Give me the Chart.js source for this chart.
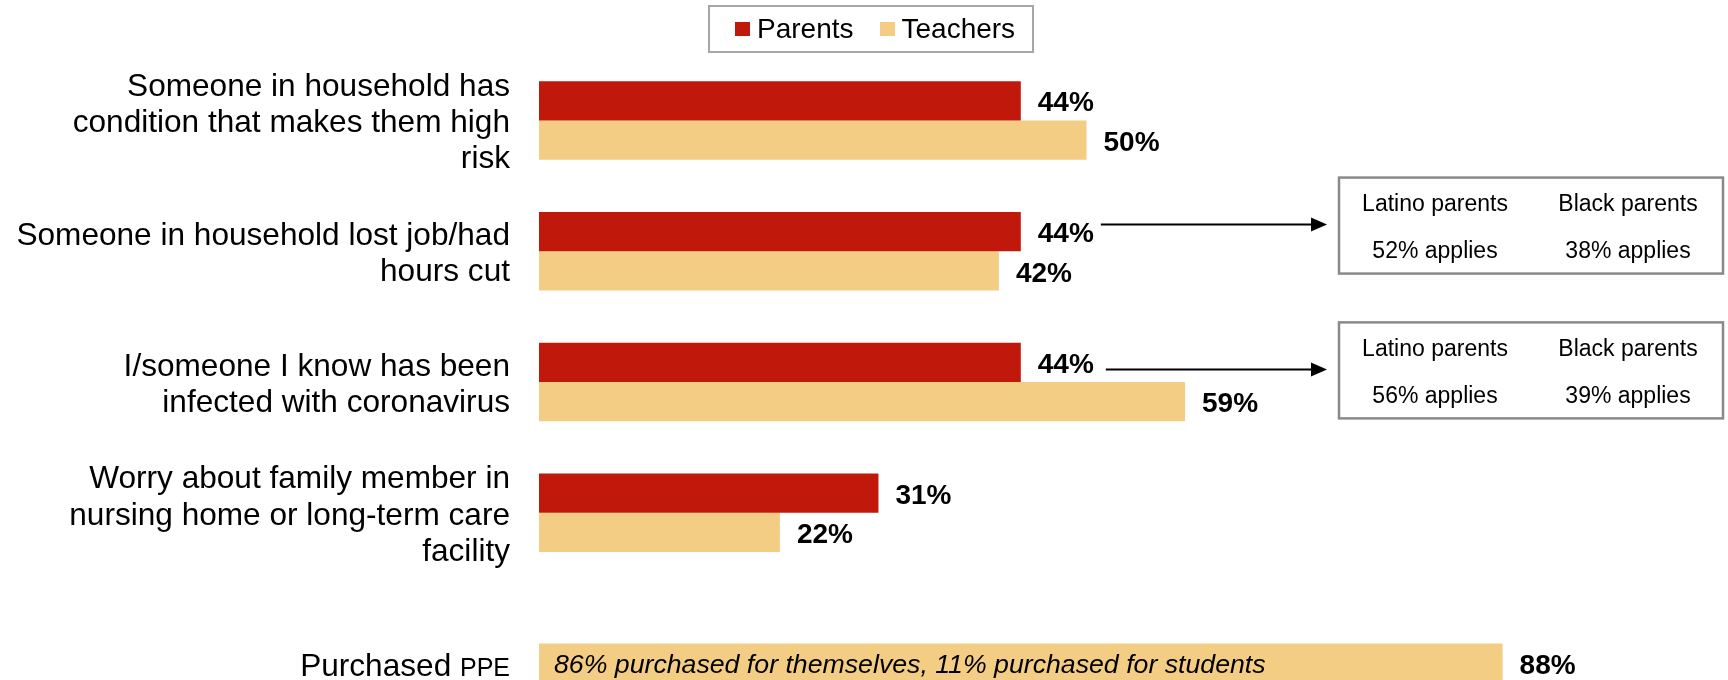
<!DOCTYPE html>
<html lang="en">
<head>
    <meta charset="UTF-8">
    <title>Parents vs Teachers - household impact</title>
    <script src="https://cdn.jsdelivr.net/npm/chart.js"></script>
    <style>
        body {
            margin: 0;
            background: #fff;
            width: 1728px;
            height: 680px;
            overflow: hidden;
            font-family: 'Liberation Sans', Arial, sans-serif;
            color: #000;
        }
        .wrap {
            position: relative;
            width: 1728px;
            height: 712px;
        }
        canvas {
            display: block;
        }
        .legend {
            position: absolute;
            left: 708px;
            top: 5px;
            width: 297px;
            height: 44px;
            padding-left: 25px;
            border: 2px solid #a6a6a6;
            display: flex;
            align-items: center;
            font-size: 28px;
            z-index: 2;
        }
        .legend .item {
            display: flex;
            align-items: center;
            margin-right: 26px;
        }
        .legend .swatch {
            width: 15px;
            height: 14px;
            margin-right: 7px;
        }
    </style>
</head>
<body>
    <div class="wrap">
        <div class="legend" id="legend"></div>
        <canvas id="chart" width="1728" height="712"></canvas>
    </div>

    <script>
        // data
        const categories = [
            ['Someone in household has', 'condition that makes them high', 'risk'],
            ['Someone in household lost job/had', 'hours cut'],
            ['I/someone I know has been', 'infected with coronavirus'],
            ['Worry about family member in', 'nursing home or long-term care', 'facility'],
            'Purchased PPE'
        ];
        const parents = [44, 44, 44, 31, null];
        const teachers = [50, 42, 59, 22, 88];
        const seriesNames = ['Parents', 'Teachers'];
        const seriesColors = ['#C0180B', '#F4CD84'];
        const ppeNote = '86% purchased for themselves, 11% purchased for students';

        // breakout boxes for parents (category index -> subgroup values)
        const breakoutCategories = [1, 2];
        const breakoutHeaders = ['Latino parents', 'Black parents'];
        const latinoApplies = [52, 56];
        const blackApplies = [38, 39];

        const FONT = "'Liberation Sans', Arial, sans-serif";
        Chart.defaults.font.family = FONT;
        Chart.defaults.color = '#000';

        // html legend
        const legendEl = document.getElementById('legend');
        seriesNames.forEach((name, i) => {
            const item = document.createElement('div');
            item.className = 'item';
            item.innerHTML = '<span class="swatch" style="background:' + seriesColors[i] + '"></span><span>' + name + '</span>';
            legendEl.appendChild(item);
        });

        // value labels, PPE label/note, arrows and breakout boxes
        const annotations = {
            id: 'annotations',
            afterDatasetsDraw(chart) {
                const ctx = chart.ctx;
                const metaP = chart.getDatasetMeta(0);
                const metaT = chart.getDatasetMeta(1);
                ctx.save();

                // value labels
                ctx.font = 'bold 28px ' + FONT;
                ctx.fillStyle = '#000';
                ctx.textAlign = 'left';
                ctx.textBaseline = 'middle';
                [metaP, metaT].forEach((meta, di) => {
                    meta.data.forEach((el, i) => {
                        const v = chart.data.datasets[di].data[i];
                        if (v === null) return;
                        ctx.fillText(v + '%', el.x + 17, el.y + 3);
                    });
                });

                // note inside the PPE bar
                const last = categories.length - 1;
                const ppeBar = metaT.data[last];
                ctx.font = 'italic 26.7px ' + FONT;
                ctx.fillText(ppeNote, ppeBar.base + 15, ppeBar.y + 2);

                // PPE category label, drawn next to its only bar
                const labelRight = chart.chartArea.left - 29;
                ctx.textAlign = 'right';
                ctx.textBaseline = 'alphabetic';
                ctx.font = '25px ' + FONT;
                const ppeW = ctx.measureText('PPE').width;
                ctx.fillText('PPE', labelRight, ppeBar.y + 13);
                ctx.font = '31.6px ' + FONT;
                ctx.fillText('Purchased ', labelRight - ppeW, ppeBar.y + 13);

                // arrows + breakout boxes
                const offsets = [-7, 7];
                const boxLeft = 1339, boxW = 384, boxH = 96;
                breakoutCategories.forEach((cat, k) => {
                    const bar = metaP.data[cat];
                    const y = bar.y + offsets[k];
                    ctx.font = 'bold 28px ' + FONT;
                    const x0 = bar.x + 17 + ctx.measureText(parents[cat] + '%').width + 7 + k * 5;
                    const tip = boxLeft - 12;

                    ctx.strokeStyle = '#000';
                    ctx.lineWidth = 2;
                    ctx.beginPath();
                    ctx.moveTo(x0, y);
                    ctx.lineTo(tip - 14, y);
                    ctx.stroke();
                    ctx.fillStyle = '#000';
                    ctx.beginPath();
                    ctx.moveTo(tip, y);
                    ctx.lineTo(tip - 16, y - 7);
                    ctx.lineTo(tip - 16, y + 7);
                    ctx.closePath();
                    ctx.fill();

                    const top = y - boxH / 2 + 1;
                    ctx.strokeStyle = '#8a8a8a';
                    ctx.lineWidth = 2.5;
                    ctx.strokeRect(boxLeft, top, boxW, boxH);

                    ctx.font = '23px ' + FONT;
                    ctx.textAlign = 'center';
                    ctx.textBaseline = 'middle';
                    ctx.fillStyle = '#000';
                    const cy = top + boxH / 2;
                    ctx.fillText(breakoutHeaders[0], boxLeft + 96, cy - 21);
                    ctx.fillText(breakoutHeaders[1], boxLeft + 289, cy - 21);
                    ctx.fillText(latinoApplies[k] + '% applies', boxLeft + 96, cy + 26);
                    ctx.fillText(blackApplies[k] + '% applies', boxLeft + 289, cy + 26);
                });

                ctx.restore();
            }
        };

        new Chart(document.getElementById('chart'), {
            type: 'bar',
            data: {
                labels: categories,
                datasets: [{
                    label: seriesNames[0],
                    data: parents,
                    backgroundColor: seriesColors[0]
                }, {
                    label: seriesNames[1],
                    data: teachers,
                    backgroundColor: seriesColors[1]
                }]
            },
            options: {
                indexAxis: 'y',
                responsive: false,
                animation: false,
                datasets: {
                    bar: {
                        barPercentage: 1,
                        categoryPercentage: 0.6,
                        borderWidth: 0
                    }
                },
                layout: {
                    padding: { left: 0, right: 94, top: 55, bottom: 3 }
                },
                scales: {
                    x: {
                        display: false,
                        min: 0,
                        max: 100
                    },
                    y: {
                        grid: { display: false, drawTicks: false },
                        border: { display: false },
                        ticks: {
                            padding: 29,
                            labelOffset: 3,
                            color: '#000',
                            font: { size: 31.6, lineHeight: 1.15 },
                            callback: (v, i) => i === categories.length - 1 ? '' : categories[i]
                        },
                        afterFit: (scale) => {
                            // fixed axis width; the category offset already leaves room for labels
                            scale.width = 539;
                            scale.paddingTop = 0;
                            scale.paddingBottom = 0;
                        }
                    }
                },
                plugins: {
                    legend: { display: false },
                    tooltip: { enabled: false }
                }
            },
            plugins: [annotations]
        });
    </script>
</body>
</html>
